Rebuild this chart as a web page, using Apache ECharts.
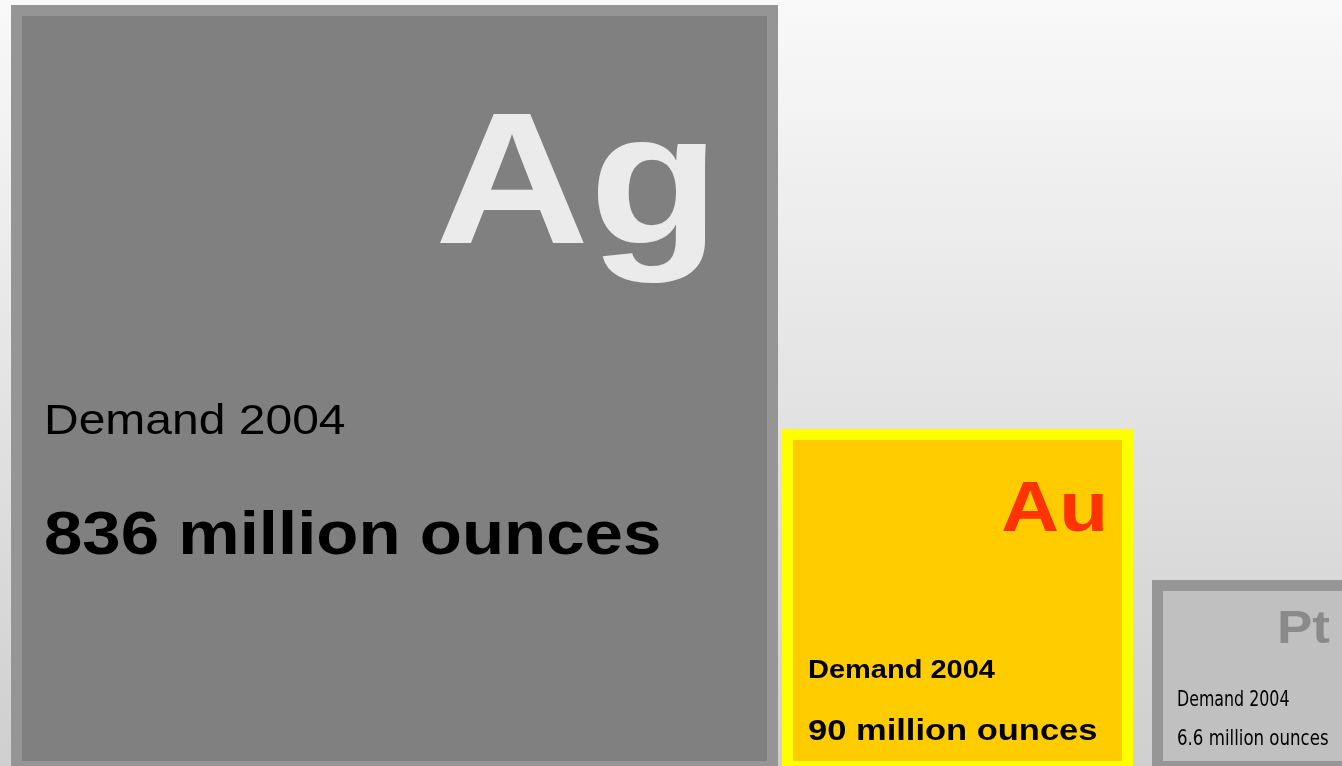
<!DOCTYPE html>
<html>
<head>
<meta charset="utf-8">
<title>Demand 2004</title>
<script src="https://cdn.jsdelivr.net/npm/echarts@6/dist/echarts.min.js"></script>
<style>
  html, body { margin: 0; padding: 0; }
  #chart { width: 1342px; height: 766px; }
</style>
</head>
<body>
<div id="chart"></div>
<script>
// element symbols and 2004 demand (million ounces)
const symbols = ['Ag', 'Au', 'Pt'];
const demand = [836, 90, 6.6];
const yearLabel = 'Demand 2004';
const unitLabel = 'million ounces';

// tile extents, in axis units
const tileStart = [11, 782, 1152];
const tileEnd = [778, 1133, 1356];
const tileTop = [5, 429, 580];
const tileBase = 772;

// look of each tile (colours, fonts, text offsets inside the tile)
// the lettering in the original is a little flattened, hence sy
const narrow = "'Liberation Sans Narrow', 'DejaVu Sans Condensed', sans-serif";
const arial = "'Liberation Sans', Arial, sans-serif";
const looks = [
  {
    frame: '#959595', fill: '#808080',
    sym: {color: '#ebebeb', size: 214, x: 709, y: 186, family: arial, sy: 0.88},
    year: {size: 48, weight: 'normal', x: 33, y: 417, family: arial, sy: 0.88},
    amount: {size: 69, weight: 'bold', x: 33, y: 532, family: arial, sy: 0.88}
  },
  {
    frame: '#ffff00', fill: '#ffcc00',
    sym: {color: '#ff3300', size: 80, x: 326, y: 83, family: arial, sy: 0.88},
    year: {size: 29, weight: 'bold', x: 26, y: 242, family: arial, sy: 0.88},
    amount: {size: 34.5, weight: 'bold', x: 26, y: 303, family: arial, sy: 0.88}
  },
  {
    frame: '#969696', fill: '#c0c0c0',
    sym: {color: '#8a8a8a', size: 53, x: 178, y: 50, family: arial, sy: 0.88},
    year: {size: 22, weight: 'normal', x: 25, y: 120, family: narrow, sx: 0.8},
    amount: {size: 22, weight: 'normal', x: 25, y: 159, family: narrow, sx: 0.84}
  }
];
const border = 11;

const chart = echarts.init(document.getElementById('chart'));

function renderItem(params, api) {
  const i = params.dataIndex;
  const s = looks[i];
  const tl = api.coord([api.value(0), api.value(2)]);
  const br = api.coord([api.value(1), tileBase]);
  const w = br[0] - tl[0];
  const h = br[1] - tl[1];
  const label = (t, f, extra) => ({
    type: 'text',
    x: tl[0] + f.x,
    y: tl[1] + f.y,
    scaleX: f.sx || 1,
    scaleY: f.sy || 1,
    style: Object.assign({
      text: t,
      x: 0,
      y: 0,
      fill: '#000',
      fontSize: f.size,
      fontWeight: f.weight || 'bold',
      fontFamily: f.family,
      align: 'left',
      verticalAlign: 'middle'
    }, extra || {})
  });
  return {
    type: 'group',
    children: [
      {type: 'rect', shape: {x: tl[0], y: tl[1], width: w, height: h}, style: {fill: s.frame}},
      {type: 'rect', shape: {x: tl[0] + border, y: tl[1] + border, width: w - 2 * border, height: h - 2 * border}, style: {fill: s.fill}},
      label(symbols[i], s.sym, {fill: s.sym.color, align: 'right'}),
      label(yearLabel, s.year),
      label(demand[i] + ' ' + unitLabel, s.amount)
    ]
  };
}

const option = {
  animation: false,
  backgroundColor: {
    type: 'linear', x: 0, y: 0, x2: 0, y2: 1,
    colorStops: [{offset: 0, color: '#f9f9f9'}, {offset: 1, color: '#cfcfcf'}]
  },
  grid: {left: 0, right: 0, top: 0, bottom: 0},
  xAxis: {type: 'value', min: 0, max: 1342, show: false},
  yAxis: {type: 'value', min: 0, max: 766, inverse: true, show: false},
  series: [{
    type: 'custom',
    renderItem: renderItem,
    clip: false,
    data: symbols.map((s, i) => [tileStart[i], tileEnd[i], tileTop[i]])
  }]
};

chart.setOption(option);
</script>
</body>
</html>
